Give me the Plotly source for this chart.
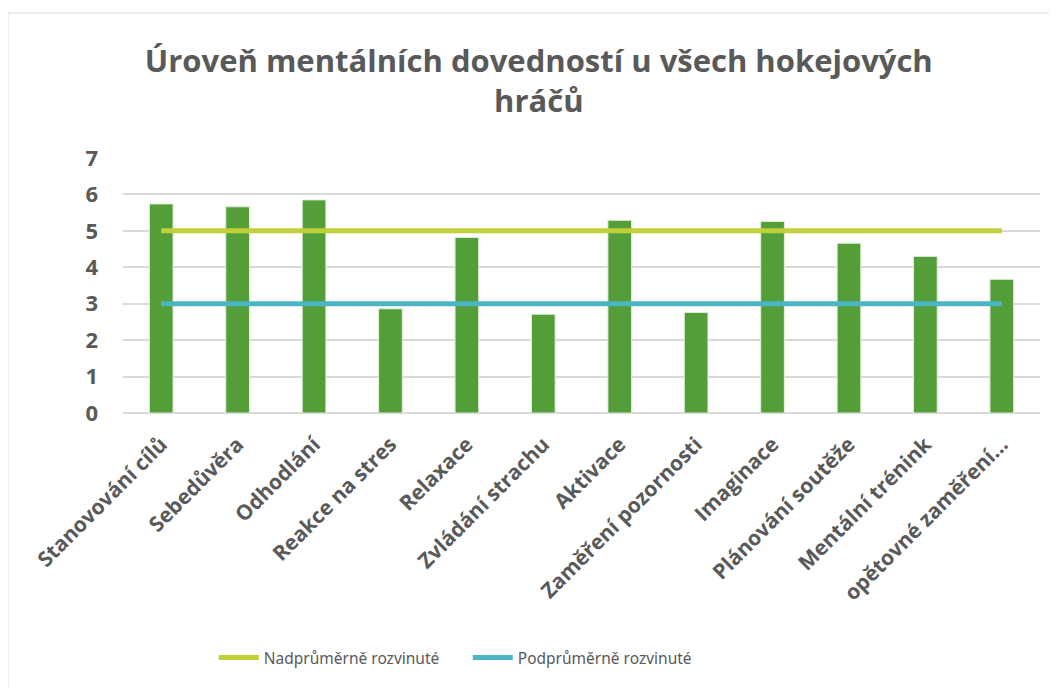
import plotly.graph_objects as go

categories = [
    "Stanovování cílů", "Sebedůvěra", "Odhodlání", "Reakce na stres",
    "Relaxace", "Zvládání strachu", "Aktivace", "Zaměření pozornosti",
    "Imaginace", "Plánování soutěže", "Mentální trénink", "opětovné zaměření...",
]
scores = [5.74, 5.66, 5.85, 2.86, 4.82, 2.71, 5.29, 2.76, 5.26, 4.66, 4.30, 3.67]
above_avg = [5] * len(categories)
below_avg = [3] * len(categories)

grey = "#595959"

# page has an 8px body margin, so the figure is 8px smaller and shifted
W, H = 1049, 680
L, R, T, B = 115, 17, 150, 275
pw, ph = W - L - R, H - T - B

fig = go.Figure()

fig.add_trace(go.Bar(
    x=categories, y=scores,
    marker=dict(color="#549e39", line=dict(color="#e2efda", width=1)),
    width=0.31, showlegend=False, name="Skóre",
))
fig.add_trace(go.Scatter(
    x=categories, y=above_avg, mode="lines",
    line=dict(color="#c0cf3a", width=5),
    name="Nadprůměrně rozvinuté",
))
fig.add_trace(go.Scatter(
    x=categories, y=below_avg, mode="lines",
    line=dict(color="#4bb5c4", width=5),
    name="Podprůměrně rozvinuté",
))

fig.update_layout(
    width=W, height=H,
    margin=dict(l=L, r=R, t=T, b=B),
    paper_bgcolor="white", plot_bgcolor="white",
    title=dict(
        text="Úroveň mentálních dovedností u všech hokejových<br>hráčů",
        x=0.506, xanchor="center", y=0.906, yanchor="middle",
        font=dict(family="Open Sans", size=31, color=grey, weight="bold"),
    ),
    legend=dict(
        orientation="h", x=0.376, xanchor="center",
        y=(ph - (650 - T)) / ph, yanchor="middle",
        font=dict(family="Noto Sans", size=15.5, color=grey),
        itemwidth=40, entrywidth=199,
    ),
    shapes=[dict(
        type="rect", xref="paper", yref="paper",
        x0=(0 - L) / pw, x1=(1060 - L) / pw,
        y0=(T + ph - 700) / ph, y1=(T + ph - 5) / ph,
        line=dict(color="#d9d9d9", width=1), layer="below",
    )],
)

fig.update_xaxes(
    tickangle=-45, showgrid=False, showline=False, ticks="",
    tickfont=dict(family="Open Sans", size=21, color=grey, weight="bold"),
    ticklabelstandoff=14,
)
fig.update_yaxes(
    range=[0, 7], dtick=1, showgrid=True, gridcolor="#d9d9d9", gridwidth=1.5,
    zeroline=True, zerolinecolor="#d9d9d9", zerolinewidth=1.5,
    tickfont=dict(family="Open Sans", size=22, color=grey, weight="bold"),
    ticklabelstandoff=24,
)

fig.write_html("out.html")
